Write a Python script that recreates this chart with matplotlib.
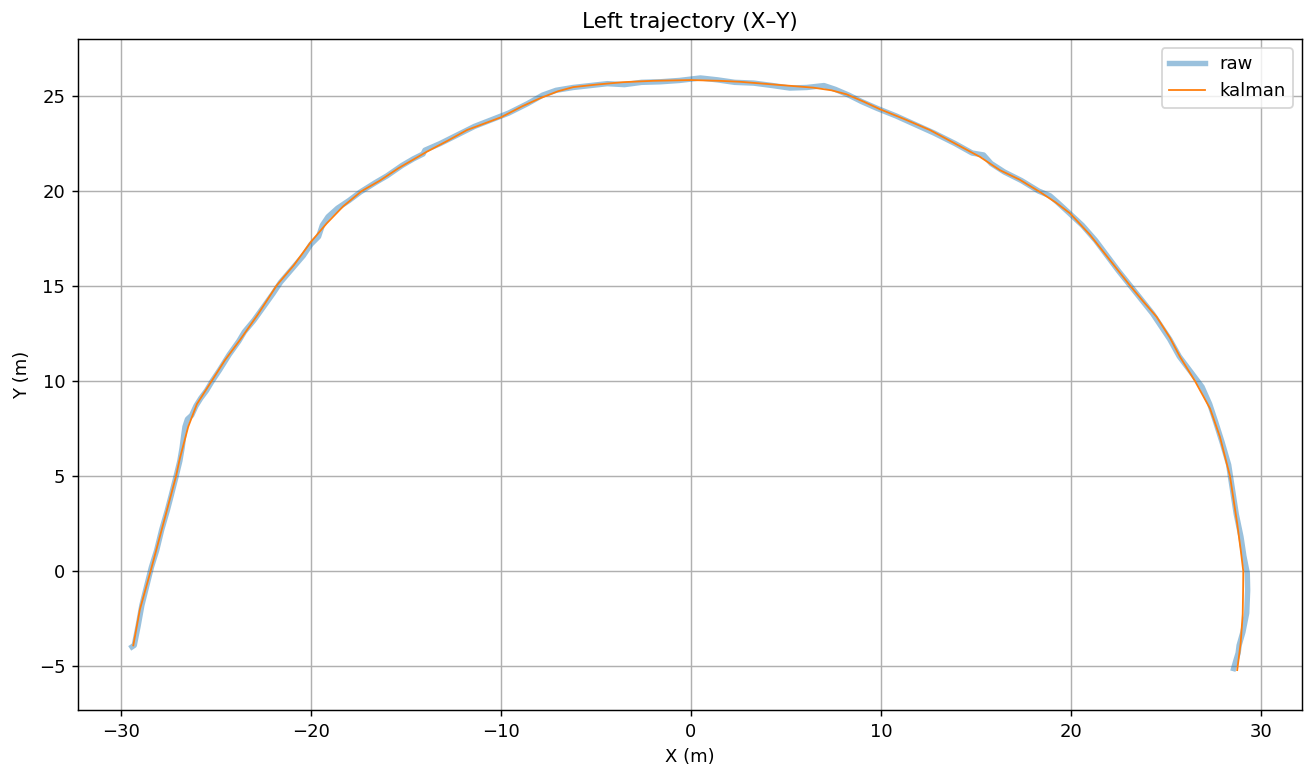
import matplotlib
matplotlib.use("Agg")
import matplotlib.pyplot as plt
import numpy as np

# raw measurements (x, y) in metres
raw_x = [-29.42, -29.3, -29.1, -28.9, -28.6, -28.4, -28.12, -27.85, -27.56, -27.35,
         -27.12, -26.9, -26.78, -26.7, -26.63, -26.5, -26.28, -26.05, -25.8, -25.5, -25.2,
         -24.8, -24.3, -23.8, -23.5, -23.0, -22.5, -22.0, -21.6, -21.0, -20.4,
         -20.0, -19.6, -19.4, -19.1, -18.6, -18.0, -17.4, -16.6, -16.0, -15.2,
         -14.6, -14.1, -14.0, -13.2, -12.2, -11.4, -10.5, -9.6, -8.6, -7.8,
         -7.1, -6.2, -5.3, -4.4, -3.5, -2.6, -1.6, -0.6, 0.5, 1.4,
         2.3, 3.3, 4.3, 5.2, 6.1, 7.0, 7.6, 8.3, 9.0, 9.8,
         10.8, 11.8, 12.8, 13.9, 14.8, 15.4, 15.8, 16.5, 17.4, 18.3,
         18.9, 19.3, 19.9, 20.6, 21.3, 21.9, 22.5, 23.1, 23.7, 24.3,
         24.8, 25.2, 25.7, 26.3, 26.9, 27.3, 27.6, 27.95, 28.3, 28.5,
         28.7, 28.95, 29.1, 29.28, 29.3, 29.25, 29.05, 28.85, 28.8, 28.65,
         28.56]
raw_y = [-3.98, -3.9, -2.9, -1.8, -0.6, 0.2, 1.1, 2.2, 3.2, 4.0,
         4.9, 5.8, 6.5, 7.1, 7.6, 8.0, 8.2, 8.7, 9.1, 9.5, 10.0,
         10.6, 11.4, 12.1, 12.6, 13.2, 13.9, 14.6, 15.2, 15.9, 16.6,
         17.2, 17.6, 18.2, 18.65, 19.1, 19.5, 19.95, 20.45, 20.8, 21.35,
         21.7, 21.95, 22.15, 22.5, 23.0, 23.4, 23.75, 24.1, 24.6, 25.05,
         25.3, 25.45, 25.55, 25.65, 25.6, 25.72, 25.75, 25.82, 25.95, 25.85,
         25.72, 25.68, 25.55, 25.42, 25.45, 25.55, 25.35, 25.05, 24.7, 24.35,
         23.95, 23.5, 23.05, 22.5, 22.0, 21.9, 21.45, 21.0, 20.55, 20.0,
         19.75, 19.4, 18.85, 18.2, 17.4, 16.6, 15.8, 15.05, 14.3, 13.55,
         12.8, 12.2, 11.3, 10.5, 9.7, 8.8, 7.9, 6.8, 5.6, 4.3,
         3.0, 1.8, 0.8, -0.1, -1.0, -2.2, -3.2, -3.9, -4.3, -4.8,
         -5.12]

# kalman filtered track
kf_x = [-29.35, -29.0, -28.44, -27.77, -27.1, -26.9, -26.46, -26.0, -25.23, -24.53,
        -23.74, -22.8, -21.8, -20.9, -20.0, -19.17, -18.3, -17.33, -16.37, -15.4, -13.9,
        -12.8, -11.79, -10.0, -8.9, -7.95, -7.0, -6.19, -5.0, -3.56, -2.0,
        0.0, 1.5, 2.58, 4.68, 6.44, 7.4, 8.19, 9.1, 9.96, 11.2,
        12.58, 13.9, 15.21, 16.26, 17.3, 18.37, 19.2, 19.95, 21.0, 22.05,
        23.1, 23.8, 24.51, 25.2, 25.74, 26.53, 27.32, 27.84, 28.37, 28.75,
        28.95, 29.07, 29.06, 29.04, 28.93, 28.75]
kf_y = [-3.9, -2.0, 0.0, 2.5, 5.0, 5.93, 7.6, 8.8, 10.0, 11.1,
        12.16, 13.5, 15.04, 16.1, 17.33, 18.3, 19.2, 20.0, 20.55, 21.2, 22.07,
        22.65, 23.21, 23.88, 24.45, 24.88, 25.25, 25.47, 25.6, 25.73, 25.8,
        25.84, 25.8, 25.75, 25.58, 25.44, 25.3, 25.09, 24.7, 24.3, 23.8,
        23.21, 22.5, 21.8, 21.1, 20.6, 19.95, 19.4, 18.83, 17.7, 16.37,
        15.04, 14.2, 13.38, 12.3, 11.28, 10.0, 8.56, 7.07, 5.0, 2.5,
        1.0, 0.0, -1.0, -2.25, -3.8, -5.2]

fig, ax = plt.subplots(figsize=(1307 / 130, 771 / 130), dpi=130)
fig.subplots_adjust(left=78 / 1307, right=1302 / 1307, top=1 - 39 / 771, bottom=1 - 710 / 771)
ax.plot(raw_x, raw_y, color="C0", lw=3, alpha=0.45, label="raw")
ax.plot(kf_x, kf_y, color="C1", lw=1, label="kalman")
# equal scale on both axes (same metres per pixel)
ax.set_xlim(-32.26, 32.16)
ax.set_ylim(-7.3, 28.0)
ax.grid(True)
ax.set_xlabel("X (m)")
ax.set_ylabel("Y (m)")
ax.set_title("Left trajectory (X\u2013Y)")
ax.legend(loc="upper right")
fig.savefig("out.png", dpi=130)
